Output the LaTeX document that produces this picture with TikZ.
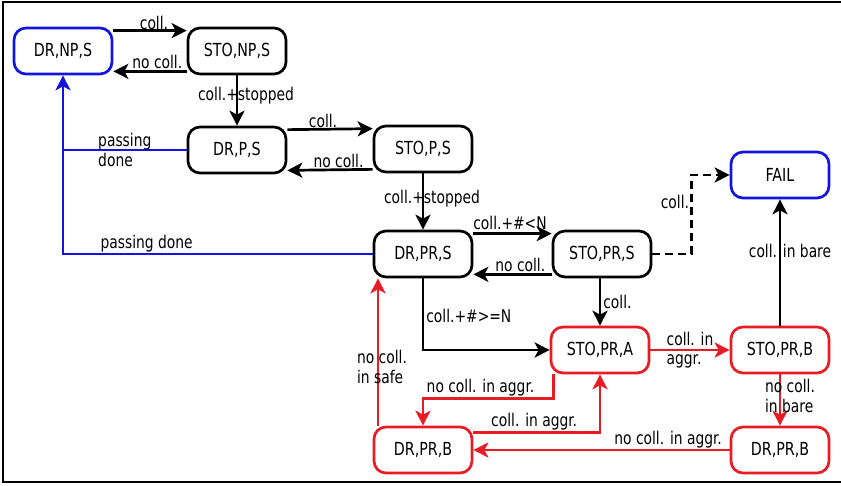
\documentclass[tikz,border=0pt]{standalone}
\usepackage{fontspec}
\setmainfont{DejaVu Sans Condensed}[FakeStretch=0.88]
\usetikzlibrary{arrows.meta,positioning,calc}
\definecolor{stblue}{RGB}{20,20,225}
\definecolor{stred}{RGB}{232,28,36}

\begin{document}
\begin{tikzpicture}
  [x=1pt,y=-1pt,
   state/.style={draw,rounded corners=12pt,line width=2.7pt,minimum width=98pt,
     minimum height=46pt,inner sep=0pt,font=\fontsize{18}{20}\selectfont},
   lbl/.style={font=\fontsize{17.5}{19.5}\selectfont,inner sep=2pt,align=left},
   arr/.style={line width=2.7pt,-{Stealth[length=15pt,width=15pt,inset=4pt]}}]
  \useasboundingbox (0,0) rectangle (841,485);
  \draw[line width=2.8pt] (841,2) -- (3,2) -- (3,482) -- (841,482);

  \node[state,draw=stblue] (drnps) at (63,51) {DR,NP,S};
  \node[state] (stonps) at (237,51) {STO,NP,S};
  \node[state] (drps) at (237,150) {DR,P,S};
  \node[state] (stops) at (423,149) {STO,P,S};
  \node[state] (drprs) at (423,254) {DR,PR,S};
  \node[state] (stoprs) at (602,254) {STO,PR,S};
  \node[state,draw=stblue] (fail) at (780,175) {FAIL};
  \node[state,draw=stred] (stopra) at (600,350) {STO,PR,A};
  \node[state,draw=stred] (stoprb) at (780,350) {STO,PR,B};
  \node[state,draw=stred] (drprbl) at (423,450) {DR,PR,B};
  \node[state,draw=stred] (drprbr) at (780,450) {DR,PR,B};
  \coordinate (bjoin) at (drnps.south |- drps.west);

  % pairs of collision / no collision
  \foreach \a/\b in {drnps/stonps,drps/stops,drprs/stoprs}{
    \draw[arr] ([yshift=-4pt]\a.north east) -- ([yshift=-4pt]\b.north west);
    \draw[arr] ([yshift=4pt]\b.south west) -- ([yshift=4pt]\a.south east)
      node[lbl,pos=0.4,above=-1pt] {no coll.};
  }
  \node[lbl,above=-1pt] at (154,31) {coll.};
  \node[lbl,above=-1pt] at (323,129) {coll.};
  \node[lbl,above=1pt] at (510,233) {coll.+\#<N};

  \draw[arr] (stonps) -- (drps) node[lbl,pos=0.4,xshift=9pt] {coll.+stopped};
  \draw[arr] (stops.south -| drprs.north) -- (drprs.north)
    node[lbl,pos=0.45,xshift=9pt] {coll.+stopped};

  % passing done
  \draw[arr,stblue] (drps.west) -| (drnps.south)
    node[lbl,pos=0.25,text=black] {passing\\done};
  \draw[line width=2.7pt,stblue] (drprs.west) -| (bjoin)
    node[lbl,pos=0.365,above=-1pt,text=black] {passing done};

  \draw[arr,dash pattern=on 8pt off 5pt] (stoprs.east) -- ++(39,0) |- (fail.west)
    node[lbl,pos=0.33,left=-1pt] {coll.};
  \draw[arr] (stoprs.south -| stopra.north) -- (stopra.north)
    node[lbl,midway,right] {coll.};
  \draw[arr] (drprs.south) |- (stopra.west)
    node[lbl,pos=0.26,right] {coll.+\#>=N};
  \draw[arr] (stoprb) -- (fail)
    node[lbl,pos=0.59,xshift=10pt] {coll. in bare};

  % red part
  \draw[arr,stred] ([xshift=-45pt]drprbl.north) -- ([xshift=-45pt]drprs.south)
    node[lbl,pos=0.4,xshift=4pt,text=black] {no coll.\\in safe};
  \draw[arr,stred] ([xshift=4pt]stopra.south west) -- ++(0,24) -| (drprbl.north)
    node[lbl,pos=0.28,above=-1pt,text=black] {no coll. in aggr.};
  \draw[arr,stred] ([yshift=-7pt]drprbl.north east) -| (stopra.south)
    node[lbl,pos=0.24,above=-1pt,text=black] {coll. in aggr.};
  \draw[arr,stred] (stopra) -- (stoprb)
    node[lbl,midway,text=black] {coll. in\\aggr.};
  \draw[arr,stred] (stoprb) -- (drprbr)
    node[lbl,pos=0.42,xshift=10pt,text=black] {no coll.\\in bare};
  \draw[arr,stred] (drprbr) -- (drprbl)
    node[lbl,pos=0.24,above=-1pt,text=black] {no coll. in aggr.};
\end{tikzpicture}
\end{document}
